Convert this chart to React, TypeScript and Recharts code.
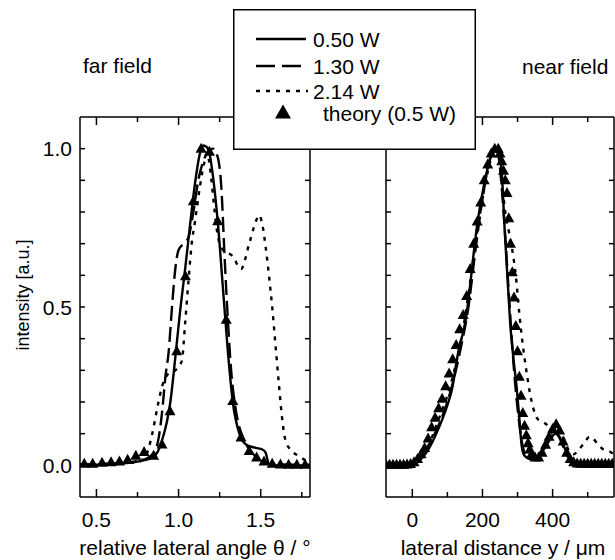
import { LineChart, Line, XAxis, YAxis } from "recharts";

const FONT = '"Liberation Sans", Arial, Helvetica, sans-serif';

// far field: relative lateral angle (deg) -> intensity (a.u.)
const farSolid = [
  [0.4, 0.0], [0.5, 0.002], [0.6, 0.004], [0.7, 0.008], [0.78, 0.015], [0.84, 0.025], [0.87, 0.04],
  [0.9, 0.08], [0.93, 0.14], [0.95, 0.2], [0.98, 0.34], [1.01, 0.49], [1.04, 0.62], [1.07, 0.76],
  [1.1, 0.89], [1.13, 0.985], [1.15, 1.01], [1.18, 1.0], [1.21, 0.91], [1.24, 0.76], [1.27, 0.56],
  [1.3, 0.36], [1.33, 0.2], [1.37, 0.1], [1.41, 0.066], [1.47, 0.055], [1.51, 0.05], [1.53, 0.04],
  [1.55, 0.005], [1.6, 0.0], [1.8, 0.0],
];
const farDashed = [
  [0.4, 0.003], [0.55, 0.005], [0.7, 0.01], [0.8, 0.02], [0.85, 0.04], [0.88, 0.09], [0.9, 0.17],
  [0.92, 0.28], [0.94, 0.36], [0.96, 0.5], [0.98, 0.62], [1.0, 0.68], [1.03, 0.7], [1.06, 0.72],
  [1.09, 0.8], [1.12, 0.9], [1.15, 0.96], [1.18, 0.99], [1.21, 1.0], [1.24, 0.97], [1.26, 0.88],
  [1.28, 0.66], [1.3, 0.46], [1.32, 0.3], [1.35, 0.17], [1.39, 0.09], [1.44, 0.045], [1.5, 0.015],
  [1.56, 0.003], [1.8, 0.002],
];
const farDotted = [
  [0.4, 0.003], [0.6, 0.005], [0.75, 0.01], [0.8, 0.03], [0.84, 0.1], [0.87, 0.18], [0.9, 0.25],
  [0.94, 0.29], [0.98, 0.3], [1.02, 0.33], [1.04, 0.45], [1.06, 0.58], [1.08, 0.7], [1.1, 0.77],
  [1.13, 0.88], [1.16, 0.96], [1.18, 0.97], [1.2, 0.9], [1.22, 0.8], [1.24, 0.72], [1.27, 0.68],
  [1.33, 0.66], [1.38, 0.62], [1.43, 0.7], [1.47, 0.77], [1.49, 0.79], [1.51, 0.76], [1.53, 0.69],
  [1.55, 0.6], [1.57, 0.5], [1.59, 0.38], [1.61, 0.26], [1.63, 0.15], [1.65, 0.08], [1.68, 0.05],
  [1.73, 0.03], [1.76, 0.02], [1.8, 0.0],
];
const farTheory = [
  [0.426, 0.005], [0.477, 0.005], [0.534, 0.008], [0.589, 0.01], [0.64, 0.012], [0.69, 0.018],
  [0.74, 0.03], [0.79, 0.042], [0.848, 0.03], [0.899, 0.066], [0.948, 0.171], [0.989, 0.36],
  [1.042, 0.597], [1.09, 0.834], [1.137, 1.0], [1.188, 0.99], [1.238, 0.771], [1.29, 0.46],
  [1.33, 0.203], [1.38, 0.088], [1.43, 0.045], [1.475, 0.025], [1.52, 0.012], [1.57, 0.005],
  [1.62, 0.003], [1.67, 0.002], [1.72, 0.002], [1.77, 0.002],
];

// near field: lateral distance (um) -> intensity (a.u.)
const nearSolid = [
  [-75, 0.003], [-40, 0.003], [-10, 0.003], [5, 0.006], [20, 0.015], [40, 0.04], [60, 0.08],
  [80, 0.13], [100, 0.19], [115, 0.25], [125, 0.32], [135, 0.38], [145, 0.42], [155, 0.48],
  [165, 0.57], [175, 0.67], [185, 0.76], [200, 0.86], [215, 0.94], [228, 0.99], [238, 1.0],
  [246, 0.99], [254, 0.94], [264, 0.73], [273, 0.56], [279, 0.45], [288, 0.34], [298, 0.24],
  [305, 0.15], [312, 0.06], [320, 0.03], [335, 0.02], [350, 0.02], [365, 0.035], [380, 0.06],
  [395, 0.085], [408, 0.1], [420, 0.09], [432, 0.06], [445, 0.03], [460, 0.015], [480, 0.008],
  [510, 0.01], [540, 0.006], [575, 0.004],
];
const nearDashed = [
  [-75, 0.003], [-10, 0.003], [0, 0.004], [20, 0.015], [40, 0.05], [60, 0.09], [80, 0.14],
  [100, 0.2], [120, 0.28], [140, 0.38], [160, 0.5], [180, 0.68], [200, 0.84], [220, 0.96],
  [238, 1.0], [248, 0.96], [256, 0.86], [264, 0.74], [272, 0.6], [280, 0.46], [290, 0.3],
  [300, 0.18], [310, 0.09], [320, 0.04], [335, 0.02], [350, 0.02], [370, 0.04], [390, 0.08],
  [405, 0.1], [415, 0.095], [430, 0.06], [445, 0.025], [470, 0.01], [520, 0.008], [575, 0.005],
];
const nearDotted = [
  [-75, 0.003], [-10, 0.003], [0, 0.004], [20, 0.015], [40, 0.05], [60, 0.1], [80, 0.16],
  [100, 0.22], [120, 0.3], [140, 0.4], [160, 0.54], [180, 0.7], [200, 0.84], [220, 0.95],
  [235, 1.0], [245, 0.98], [255, 0.9], [265, 0.8], [275, 0.74], [285, 0.68], [295, 0.6],
  [305, 0.48], [315, 0.38], [325, 0.3], [335, 0.23], [345, 0.18], [355, 0.15], [365, 0.14],
  [375, 0.135], [390, 0.12], [400, 0.1], [410, 0.1], [420, 0.11], [430, 0.09], [445, 0.05],
  [460, 0.035], [475, 0.05], [490, 0.07], [505, 0.09], [515, 0.085], [530, 0.065], [545, 0.05],
  [560, 0.045], [575, 0.035],
];
const nearTheory = [
  [-75, 0.002], [-65, 0.002], [-55, 0.002], [-45, 0.002], [-35, 0.002], [-25, 0.002], [-15, 0.003],
  [-5, 0.004], [5, 0.01], [15, 0.02], [25, 0.035], [35, 0.055], [45, 0.085], [55, 0.12], [65, 0.15],
  [75, 0.18], [85, 0.21], [95, 0.25], [105, 0.29], [115, 0.335], [125, 0.38], [135, 0.43],
  [145, 0.475], [155, 0.535], [165, 0.62], [175, 0.7], [185, 0.77], [195, 0.83], [205, 0.9],
  [215, 0.95], [225, 0.985], [235, 1.0], [245, 1.0], [250, 0.985], [255, 0.96], [260, 0.93],
  [265, 0.9], [270, 0.86], [275, 0.78], [280, 0.7], [285, 0.61], [290, 0.53], [295, 0.44],
  [300, 0.36], [305, 0.28], [310, 0.22], [315, 0.165], [320, 0.125], [325, 0.095], [330, 0.07],
  [335, 0.05], [340, 0.035], [350, 0.025], [360, 0.025], [370, 0.04], [380, 0.065], [390, 0.09],
  [400, 0.115], [410, 0.13], [420, 0.11], [430, 0.075], [440, 0.04], [450, 0.02], [460, 0.01],
  [470, 0.006], [480, 0.005], [490, 0.005], [500, 0.005], [510, 0.005], [520, 0.005], [530, 0.005],
  [540, 0.005], [550, 0.005], [560, 0.005], [570, 0.005],
];

const farXTicks = [0.5, 0.75, 1.0, 1.25, 1.5, 1.75];
const farXLabels = [0.5, 1.0, 1.5];
const nearXTicks = [0, 100, 200, 300, 400, 500];
const nearXLabels = [0, 200, 400];
const yTicks = [0, 0.1, 0.2, 0.3, 0.4, 0.5, 0.6, 0.7, 0.8, 0.9, 1.0];
const yLabels = [0, 0.5, 1.0];

const legendItems = ["0.50 W", "1.30 W", "2.14 W", "theory (0.5 W)"];

const pts = (a: number[][]) => a.map(([x, v]) => ({ x, v }));
const isIn = (v: number, list: number[]) => list.some((l) => Math.abs(l - v) < 1e-6);

const triPath = (cx: number, cy: number, w: number, h: number) =>
  `M${cx},${cy - h * 0.6}L${cx + w / 2},${cy + h * 0.4}L${cx - w / 2},${cy + h * 0.4}Z`;

function TriDot(p: any) {
  if (p.cx == null || p.cy == null) return <g key={`t${p.index}`} />;
  return <path key={`t${p.index}`} d={triPath(p.cx, p.cy, 11, 10)} fill="#000" />;
}

function Panel({ left, width, xDomain, xTicks, xLabels, xDigits, solid, dashed, dotted, theory, yText }: any) {
  const bottomTick = (p: any) => {
    const major = isIn(p.payload.value, xLabels);
    return (
      <g>
        <line x1={p.x} x2={p.x} y1={p.y} y2={p.y - (major ? 8 : 5)} stroke="#000" strokeWidth={1.5} />
        {major && (
          <text x={p.x} y={p.y + 30} textAnchor="middle" fontSize={21} fontFamily={FONT} fill="#000">
            {p.payload.value.toFixed(xDigits)}
          </text>
        )}
      </g>
    );
  };
  const topTick = (p: any) => (
    <line x1={p.x} x2={p.x} y1={p.y} y2={p.y + (isIn(p.payload.value, xLabels) ? 8 : 5)} stroke="#000" strokeWidth={1.5} />
  );
  const leftTick = (p: any) => (
    <g>
      <line x1={p.x} x2={p.x + 5} y1={p.y} y2={p.y} stroke="#000" strokeWidth={1.5} />
      {yText && isIn(p.payload.value, yLabels) && (
        <text x={p.x - 8} y={p.y + 7.5} textAnchor="end" fontSize={21} fontFamily={FONT} fill="#000">
          {p.payload.value.toFixed(1)}
        </text>
      )}
    </g>
  );
  const rightTick = (p: any) => (
    <line x1={p.x} x2={p.x - 5} y1={p.y} y2={p.y} stroke="#000" strokeWidth={1.5} />
  );
  const axisLine = { stroke: "#000", strokeWidth: 1.5 };
  return (
    <div style={{ position: "absolute", left, top: 0 }}>
      <LineChart width={width} height={560} margin={{ top: 0, right: 0, bottom: 0, left: 0 }}>
        <XAxis xAxisId="b" orientation="bottom" type="number" dataKey="x" domain={xDomain} allowDataOverflow
          ticks={xTicks} interval={0} height={63} tickSize={0} tickMargin={0} tickLine={false} axisLine={axisLine} tick={bottomTick} />
        <XAxis xAxisId="t" orientation="top" type="number" dataKey="x" domain={xDomain} allowDataOverflow
          ticks={xTicks} interval={0} height={117} tickSize={0} tickMargin={0} tickLine={false} axisLine={axisLine} tick={topTick} />
        <YAxis yAxisId="l" orientation="left" type="number" domain={[-0.1, 1.1]} allowDataOverflow
          ticks={yTicks} interval={0} width={80} tickSize={0} tickMargin={0} tickLine={false} axisLine={axisLine} tick={leftTick} />
        <YAxis yAxisId="r" orientation="right" type="number" domain={[-0.1, 1.1]} allowDataOverflow
          ticks={yTicks} interval={0} width={30} tickSize={0} tickMargin={0} tickLine={false} axisLine={axisLine} tick={rightTick} />
        <Line xAxisId="b" yAxisId="l" data={pts(dotted)} dataKey="v" type="monotone" stroke="#000" strokeWidth={2.4}
          strokeDasharray="4 6" dot={false} activeDot={false} isAnimationActive={false} />
        <Line xAxisId="b" yAxisId="l" data={pts(dashed)} dataKey="v" type="monotone" stroke="#000" strokeWidth={2.4}
          strokeDasharray="15 6" dot={false} activeDot={false} isAnimationActive={false} />
        <Line xAxisId="b" yAxisId="l" data={pts(solid)} dataKey="v" type="monotone" stroke="#000" strokeWidth={2.4}
          dot={false} activeDot={false} isAnimationActive={false} />
        <Line xAxisId="t" yAxisId="r" data={pts(theory)} dataKey="v" type="linear" stroke="none"
          dot={TriDot} activeDot={false} isAnimationActive={false} />
      </LineChart>
    </div>
  );
}

export default function App() {
  const legendY = [30, 57, 82, 104];
  return (
    <div style={{ position: "absolute", left: 0, top: 0, width: 615, height: 560, overflow: "hidden", background: "#fff" }}>
      <Panel left={0} width={340} xDomain={[0.4, 1.8]} xTicks={farXTicks} xLabels={farXLabels} xDigits={1}
        solid={farSolid} dashed={farDashed} dotted={farDotted} theory={farTheory} yText />
      <Panel left={306} width={338} xDomain={[-75, 575]} xTicks={nearXTicks} xLabels={nearXLabels} xDigits={0}
        solid={nearSolid} dashed={nearDashed} dotted={nearDotted} theory={nearTheory} yText={false} />
      <svg width={615} height={560} style={{ position: "absolute", left: 0, top: 0, pointerEvents: "none" }}
        fontFamily={FONT} fill="#000">
        <text x={83} y={73} fontSize={21}>far field</text>
        <text x={522} y={74} fontSize={21}>near field</text>
        <text x={23} y={295} fontSize={18} textAnchor="middle" dominantBaseline="central" transform="rotate(-90 23 295)">
          intensity [a.u.]
        </text>
        <text x={195} y={555} fontSize={21} textAnchor="middle">relative lateral angle θ / °</text>
        <text x={503} y={555} fontSize={21} textAnchor="middle">lateral distance y / μm</text>
      </svg>
      <svg width={243} height={141} style={{ position: "absolute", left: 233, top: 9 }} fontFamily={FONT}>
        <rect x={0.75} y={0.75} width={241.5} height={139.5} fill="#fff" stroke="#000" strokeWidth={1.5} />
        <line x1={23} x2={73} y1={legendY[0]} y2={legendY[0]} stroke="#000" strokeWidth={2.4} />
        <line x1={23} x2={73} y1={legendY[1]} y2={legendY[1]} stroke="#000" strokeWidth={2.4} strokeDasharray="19 7" />
        <line x1={23} x2={75} y1={legendY[2]} y2={legendY[2]} stroke="#000" strokeWidth={2.4} strokeDasharray="4 6" />
        <path d={triPath(50, legendY[3], 16, 14)} fill="#000" />
        {legendItems.map((t, i) => (
          <text key={t} x={i === 3 ? 90 : 80} y={legendY[i] + 8} fontSize={21} fill="#000">{t}</text>
        ))}
      </svg>
    </div>
  );
}
